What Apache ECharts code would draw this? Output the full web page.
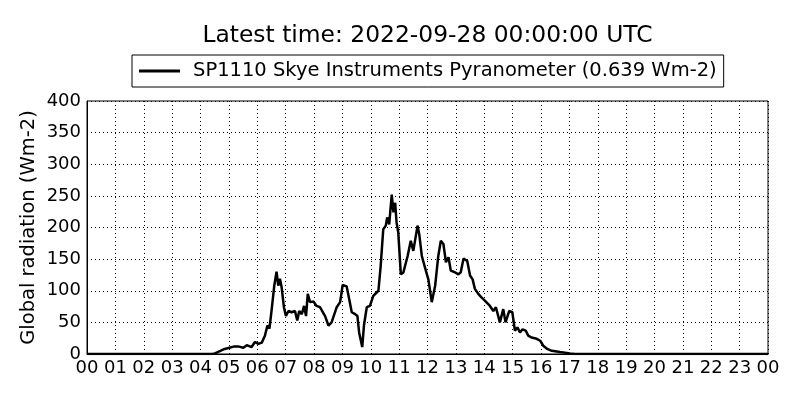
<!DOCTYPE html>
<html>
<head>
<meta charset="utf-8">
<script src="https://cdn.jsdelivr.net/npm/echarts@6/dist/echarts.min.js"></script>
<style>
html,body{margin:0;padding:0;background:#fff;}
#chart{width:800px;height:400px;}
</style>
</head>
<body>
<div id="chart"></div>
<script>
const titleText = 'Latest time: 2022-09-28 00:00:00 UTC';
const seriesName = 'SP1110 Skye Instruments Pyranometer (0.639 Wm-2)';
const yAxisName = 'Global radiation (Wm-2)';
const hourTicks = ['00','01','02','03','04','05','06','07','08','09','10','11','12','13','14','15','16','17','18','19','20','21','22','23','00'];

const hours = [0,4.4,4.51,4.7,4.85,5.02,5.2,5.33,5.51,5.63,5.80,5.92,6.04,6.16,6.27,6.36,6.43,6.51,6.60,6.68,6.74,6.80,6.86,6.94,7.01,7.10,7.21,7.33,7.41,7.48,7.57,7.65,7.72,7.78,7.86,7.98,8.09,8.21,8.39,8.51,8.62,8.80,8.92,9.01,9.15,9.24,9.33,9.45,9.53,9.59,9.64,9.70,9.76,9.86,9.97,10.09,10.27,10.35,10.44,10.53,10.58,10.65,10.74,10.80,10.86,10.91,10.97,11.06,11.15,11.21,11.30,11.41,11.50,11.56,11.65,11.71,11.80,11.91,12.03,12.15,12.27,12.38,12.47,12.56,12.65,12.74,12.82,12.97,13.09,13.17,13.27,13.40,13.50,13.59,13.67,13.79,13.91,14.03,14.20,14.32,14.41,14.55,14.67,14.75,14.88,14.99,15.08,15.17,15.26,15.35,15.46,15.55,15.67,15.85,15.97,16.08,16.22,16.38,16.67,17.02,17.2,24];
const radiation = [0,0,1,5,8,10,12,12,10,14,11,19,16,18,29,45,40,71,108,130,108,119,105,74,60,68,66,68,53,68,63,76,60,95,82,83,76,74,60,45,50,74,82,109,107,87,66,63,60,34,32,11,45,74,76,92,100,139,197,203,216,205,252,224,239,208,192,126,129,126,155,179,163,166,203,189,155,137,118,82,108,155,179,174,145,153,132,129,126,129,151,147,124,118,103,95,89,84,76,68,74,50,71,50,68,66,37,42,34,39,37,29,26,24,21,13,8,5,3,1,0,0];

const data = hours.map((h, i) => [h, radiation[i]]);
const font = 'DejaVu Sans';

const chart = echarts.init(document.getElementById('chart'), null, {renderer: 'canvas'});
chart.setOption({
  animation: false,
  backgroundColor: '#fff',
  textStyle: {fontFamily: font},
  grid: {left: 87, right: 32, top: 101, bottom: 46, show: true, borderColor: '#000', borderWidth: 1},
  graphic: [{
    type: 'text', x: 427.5, y: 24,
    style: {text: titleText, fontFamily: font, fontSize: 23.4, fill: '#000', textAlign: 'center', textVerticalAlign: 'top'}
  }],
  legend: {
    left: 132, top: 55,
    padding: [6, 7, 6, 7],
    borderColor: '#000', borderWidth: 1, borderRadius: 0,
    icon: 'rect', itemWidth: 41, itemHeight: 3,
    textStyle: {fontFamily: font, fontSize: 19.5, color: '#000', padding: [0, 0, 0, 8]},
    data: [seriesName]
  },
  xAxis: {
    type: 'value', min: 0, max: 24, interval: 1,
    axisLine: {show: true, lineStyle: {color: '#000', width: 1}},
    axisTick: {show: false},
    axisLabel: {color: '#000', fontSize: 18, fontFamily: font, margin: 5,
      formatter: v => hourTicks[Math.round(v)]},
    splitLine: {show: true, lineStyle: {color: '#000', type: [1, 3], width: 1}}
  },
  yAxis: {
    type: 'value', min: 0, max: 400, interval: 50,
    name: yAxisName, nameLocation: 'middle', nameGap: 48, nameMoveOverlap: false,
    nameTextStyle: {color: '#000', fontSize: 19.5, fontFamily: font},
    axisLine: {show: true, lineStyle: {color: '#000', width: 1}},
    axisTick: {show: false},
    axisLabel: {color: '#000', fontSize: 18, fontFamily: font, margin: 6},
    splitLine: {show: true, lineStyle: {color: '#000', type: [1, 3], width: 1}}
  },
  series: [{
    name: seriesName,
    type: 'line',
    data: data,
    showSymbol: false,
    symbol: 'none',
    smooth: false,
    lineStyle: {color: '#000', width: 2.5},
    itemStyle: {color: '#000'}
  }]
});
</script>
</body>
</html>
